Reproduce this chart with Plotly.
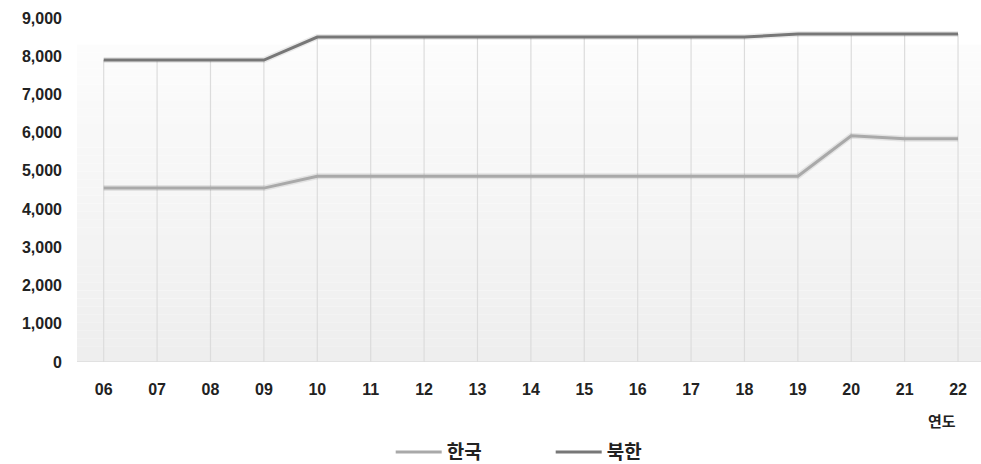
import plotly.graph_objects as go

years = ["06", "07", "08", "09", "10", "11", "12", "13", "14", "15", "16", "17", "18", "19", "20", "21", "22"]
south = [4550, 4550, 4550, 4550, 4860, 4860, 4860, 4860, 4860, 4860, 4860, 4860, 4860, 4860, 5920, 5840, 5840]
north = [7900, 7900, 7900, 7900, 8500, 8500, 8500, 8500, 8500, 8500, 8500, 8500, 8500, 8580, 8580, 8580, 8580]
y_ticks = [0, 1000, 2000, 3000, 4000, 5000, 6000, 7000, 8000, 9000]

FONT = "Liberation Sans, Arial, sans-serif"
KFONT = "Noto Sans CJK KR, sans-serif"

fig = go.Figure()

# drop lines from zero to the higher series value
gx, gy = [], []
for i, (s, n) in enumerate(zip(south, north)):
    gx += [years[i], years[i], None]
    gy += [0, max(s, n), None]
fig.add_trace(go.Scatter(x=gx, y=gy, mode="lines", line=dict(color="#dcdcdc", width=1.2),
                         hoverinfo="skip", showlegend=False))

# soft shadows
for vals in (south, north):
    fig.add_trace(go.Scatter(x=years, y=vals, mode="lines", line=dict(color="rgba(0,0,0,0.08)", width=6),
                             hoverinfo="skip", showlegend=False))

fig.add_trace(go.Scatter(x=years, y=south, mode="lines", name="한국",
                         line=dict(color="#a9a9a9", width=3)))
fig.add_trace(go.Scatter(x=years, y=north, mode="lines", name="북한",
                         line=dict(color="#777777", width=3)))

# gradient background bands
shapes = []
n_bands = 40
top_val = 8300
for k in range(n_bands):
    y0 = top_val * k / n_bands
    y1 = top_val * (k + 1) / n_bands
    t = k / (n_bands - 1)  # 0 bottom -> 1 top
    c = int(round(0xee + (0xfc - 0xee) * t))
    shapes.append(dict(type="rect", xref="x domain", yref="y", x0=0, x1=1, y0=y0, y1=y1,
                       fillcolor=f"rgb({c},{c},{c})", line=dict(width=0), layer="below"))
shapes.append(dict(type="line", xref="x domain", yref="y", x0=0, x1=1, y0=0, y1=0,
                   line=dict(color="#dddddd", width=1.5), layer="below"))

fig.update_layout(
    width=981, height=464,
    margin=dict(l=77, r=0, t=18, b=102, autoexpand=False),
    paper_bgcolor="white", plot_bgcolor="white",
    shapes=shapes,
    showlegend=True,
    legend=dict(orientation="h", x=0.524, xanchor="center", y=-0.262, yanchor="middle",
                font=dict(family=KFONT, size=19, color="#222222", weight="bold"),
                itemwidth=46, entrywidth=99, tracegroupgap=0),
    annotations=[dict(text="연도", x=0.957, y=-0.17, xref="paper", yref="paper",
                      showarrow=False, xanchor="center", yanchor="middle",
                      font=dict(family=KFONT, size=15, color="#222222", weight="bold"))],
)
fig.update_xaxes(type="category", categoryorder="array", categoryarray=years,
                 range=[-0.5, 16.43], showgrid=False, zeroline=False, showline=False,
                 ticks="", ticklabelstandoff=16, automargin=False,
                 tickfont=dict(family=FONT, size=16, color="#222222", weight="bold"))
fig.update_yaxes(range=[0, 9000], tickvals=y_ticks, tickformat=",", showgrid=False,
                 zeroline=False, showline=False, ticks="", ticklabelstandoff=14, automargin=False,
                 tickfont=dict(family=FONT, size=16, color="#222222", weight="bold"))

fig.write_html("out.html")
